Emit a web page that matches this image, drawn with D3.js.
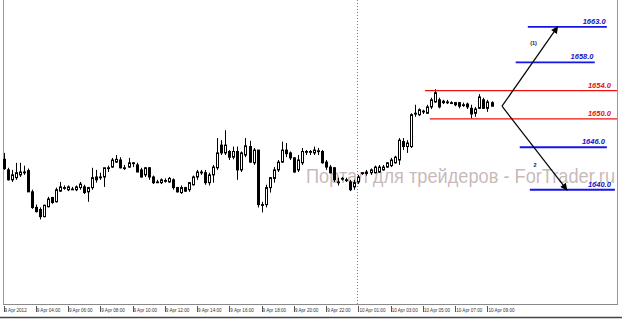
<!DOCTYPE html>
<html>
<head>
<meta charset="utf-8">
<script src="https://cdn.jsdelivr.net/npm/d3@7"></script>
<style>
	body { margin: 0; background: #fff; }
	svg { display: block; }
</style>
</head>
<body>
<svg id="chart" width="622" height="320"></svg>
<script>
// 15 min bars, 9-10 Apr 2012
const open_ = [
	1644.3,1642.8,1641.4,1641.7,1642.1,1642.4,1642.7,1639.7,1637.5,1637.2,
	1636.2,1637.6,1638.9,1638.3,1639.8,1640.3,1640.0,1640.1,1640.0,1640.3,
	1640.4,1639.7,1640.3,1641.8,1641.8,1641.8,1643.1,1643.2,1643.9,1644.2,
	1643.1,1643.2,1643.8,1643.5,1642.8,1642.1,1643.1,1641.8,1641.1,1641.0,
	1641.3,1641.1,1641.4,1640.3,1639.6,1640.3,1640.0,1640.7,1641.8,1642.4,
	1642.4,1641.0,1642.1,1643.1,1646.3,1645.2,1645.4,1644.6,1645.4,1642.8,
	1644.9,1646.1,1643.8,1645.6,1637.9,1637.9,1640.3,1641.6,1642.8,1643.9,
	1645.6,1645.2,1644.5,1642.8,1643.8,1645.4,1645.4,1645.2,1645.5,1645.4,
	1643.9,1643.2,1643.1,1641.1,1641.6,1641.4,1641.1,1640.4,1641.1,1642.4,
	1642.3,1642.4,1642.4,1642.5,1642.8,1643.2,1643.4,1643.8,1644.2,1646.8,
	1646.1,1646.1,1650.8,1650.6,1651.1,1650.8,1651.7,1652.4,1652.7,1652.5,
	1652.4,1652.3,1652.3,1652.3,1652.0,1652.1,1651.5,1650.8,1651.5,1652.7,
	1651.5,1652.3];
const high = [
	1645.2,1643.1,1642.8,1643.8,1643.8,1643.4,1643.0,1640.0,1637.9,1637.5,
	1637.9,1639.0,1639.0,1640.3,1641.1,1640.6,1640.6,1640.4,1640.6,1641.1,
	1640.7,1640.4,1643.1,1642.8,1642.4,1643.1,1643.4,1644.5,1644.9,1644.6,
	1643.5,1644.5,1643.9,1643.8,1643.1,1643.2,1643.2,1642.0,1641.4,1641.6,
	1641.6,1641.8,1641.6,1640.4,1640.6,1640.4,1641.1,1642.0,1642.8,1642.8,
	1642.8,1642.4,1643.5,1647.3,1647.0,1648.4,1645.6,1646.1,1646.1,1645.4,
	1647.3,1646.9,1645.9,1645.6,1638.3,1640.7,1641.8,1643.2,1644.2,1646.8,
	1646.6,1645.4,1644.6,1644.9,1645.9,1645.6,1645.6,1646.1,1645.9,1645.6,
	1644.2,1643.5,1643.2,1641.7,1641.8,1641.7,1641.4,1641.4,1642.1,1642.5,
	1642.8,1643.0,1643.4,1643.5,1643.5,1643.9,1644.5,1644.8,1647.3,1647.3,
	1647.0,1650.8,1652.0,1651.5,1651.3,1652.0,1653.0,1654.2,1653.0,1652.7,
	1652.7,1652.5,1652.4,1652.4,1652.3,1652.3,1652.0,1651.7,1653.5,1653.0,
	1652.7,1652.5];
const low = [
	1642.8,1641.3,1641.1,1641.4,1641.8,1642.1,1639.7,1637.3,1636.8,1635.8,
	1636.1,1637.5,1638.0,1638.2,1639.7,1640.0,1639.8,1640.0,1639.8,1640.0,
	1639.4,1638.3,1640.0,1641.0,1641.4,1640.4,1642.5,1643.1,1643.8,1643.0,
	1642.8,1643.1,1643.2,1642.5,1641.7,1641.8,1641.4,1640.8,1641.0,1640.8,
	1641.0,1641.0,1640.0,1639.6,1639.4,1639.7,1639.7,1640.6,1641.4,1642.1,
	1640.7,1640.6,1641.0,1642.8,1644.9,1644.9,1644.2,1644.3,1641.4,1642.5,
	1644.6,1643.8,1643.5,1637.5,1636.8,1637.5,1639.6,1641.0,1642.5,1643.8,
	1644.6,1644.2,1642.4,1642.5,1643.5,1644.9,1644.9,1644.9,1644.9,1643.7,
	1642.8,1642.3,1641.1,1640.6,1641.3,1641.1,1639.8,1640.0,1640.8,1642.1,
	1642.0,1642.1,1642.3,1642.4,1642.7,1643.1,1643.2,1643.7,1643.5,1645.6,
	1645.2,1645.9,1650.3,1650.4,1650.7,1650.7,1651.4,1652.3,1651.5,1652.1,
	1652.1,1652.1,1651.8,1651.5,1651.7,1651.4,1650.1,1650.3,1651.4,1651.4,
	1651.0,1651.8];
const close_ = [
	1643.0,1641.4,1642.1,1642.4,1642.5,1642.5,1639.7,1637.5,1636.9,1636.2,
	1637.8,1638.7,1638.2,1640.0,1640.4,1640.3,1640.4,1640.1,1640.4,1640.8,
	1639.6,1640.3,1641.7,1641.4,1641.8,1643.1,1643.1,1644.2,1644.3,1643.1,
	1643.1,1643.8,1643.8,1642.5,1641.8,1643.1,1641.8,1641.0,1641.1,1641.4,
	1641.3,1641.6,1640.3,1639.7,1640.3,1639.8,1641.0,1641.8,1642.5,1642.5,
	1641.0,1642.1,1643.2,1645.2,1645.2,1646.3,1644.6,1645.4,1642.8,1645.2,
	1646.2,1643.9,1645.6,1637.9,1637.9,1640.3,1641.7,1642.8,1643.9,1645.6,
	1645.1,1644.5,1642.5,1644.2,1645.4,1645.4,1645.4,1645.6,1645.5,1643.8,
	1643.2,1642.4,1641.4,1641.1,1641.6,1641.4,1640.0,1641.0,1641.8,1642.4,
	1642.5,1642.8,1643.2,1643.2,1643.2,1643.8,1644.2,1644.6,1647.0,1646.1,
	1646.6,1650.6,1650.8,1651.3,1651.1,1651.7,1652.7,1653.7,1651.7,1652.3,
	1652.4,1652.3,1652.0,1651.8,1652.0,1651.7,1650.7,1651.4,1653.1,1651.5,
	1652.4,1651.8];

const tick_labels = ["9 Apr 2012", "9 Apr 04:00", "9 Apr 06:00", "9 Apr 08:00", "9 Apr 10:00",
	"9 Apr 12:00", "9 Apr 14:00", "9 Apr 16:00", "9 Apr 18:00", "9 Apr 20:00", "9 Apr 22:00",
	"10 Apr 01:00", "10 Apr 03:00", "10 Apr 05:00", "10 Apr 07:00", "10 Apr 09:00"];
const tick_bars = [0, 8, 16, 24, 32, 40, 48, 56, 64, 72, 80, 88, 96, 104, 112, 120];
const separator_bar = 88;

// forecast levels (price, from bar, to bar)
const level_price = [1663, 1658, 1654, 1650, 1646, 1640];
const level_from  = [130, 127, 104.5, 105.7, 128, 130.5];
const level_to    = [149.6, 146.6, 152.5, 152.5, 149.6, 151.6];
const level_label_at = [149.3, 146.3, 150.6, 150.6, 149.1, 150.6];
const level_kind  = ["target", "target", "range", "range", "target", "target"];

// arrows: [bar, price]
const arrow_start = [123.6, 1651.8];
const arrow_ends  = [[137.5, 1663.1], [139.8, 1639.9]];
const arrow_notes = ["(1)", "2"];
const note_pos    = [[130.6, 1660.4], [131.4, 1643.2]];

const watermark = "Портал для трейдеров - ForTrader.ru";

const svg = d3.select("#chart");
const W = 622, H = 320;
const plot_left = 3, plot_right = 617, plot_bottom = 304;

const xscale = d3.scaleLinear().domain([0, 121]).range([3.5, 491.5]);
const yscale = d3.scaleLinear().domain([1624.0, 1666.8]).range([303, 0]);

svg.append("rect").attr("width", W).attr("height", H).attr("fill", "#fff");

// frame
svg.append("line")
	.attr("x1", plot_left + 0.5).attr("x2", plot_left + 0.5)
	.attr("y1", 0).attr("y2", plot_bottom)
	.attr("stroke", "#9a9a9a");
svg.append("line")
	.attr("x1", plot_right + 0.5).attr("x2", plot_right + 0.5)
	.attr("y1", 0).attr("y2", plot_bottom)
	.attr("stroke", "#9a9a9a");
svg.append("line")
	.attr("x1", plot_left).attr("x2", plot_right + 1)
	.attr("y1", plot_bottom + 0.5).attr("y2", plot_bottom + 0.5)
	.attr("stroke", "#8a8a8a");
svg.append("line")
	.attr("x1", 0).attr("x2", W)
	.attr("y1", 317.5).attr("y2", 317.5)
	.attr("stroke", "#444").attr("stroke-width", 1.5);

// day separator
svg.append("line")
	.attr("x1", Math.round(xscale(separator_bar)) - 0.5)
	.attr("x2", Math.round(xscale(separator_bar)) - 0.5)
	.attr("y1", 0).attr("y2", plot_bottom)
	.attr("stroke", "#777").attr("stroke-dasharray", "1,2");

// watermark
svg.append("text")
	.attr("x", 306).attr("y", 183)
	.attr("font-family", "Liberation Sans, Arial, sans-serif")
	.attr("font-size", 21)
	.attr("textLength", 309).attr("lengthAdjust", "spacingAndGlyphs")
	.attr("fill", "rgba(150,125,125,0.55)")
	.text(watermark);

// candles
const bars = d3.range(open_.length).map(i => ({
	i: i, o: open_[i], h: high[i], l: low[i], c: close_[i]
}));

const cx = d => Math.round(xscale(d.i)) + 0.5;

const candles = svg.append("g").attr("id", "candles");

candles.selectAll(".wick")
	.data(bars)
	.join("line")
	.attr("class", "wick")
	.attr("x1", cx).attr("x2", cx)
	.attr("y1", d => yscale(d.h)).attr("y2", d => yscale(d.l))
	.attr("stroke", "#000").attr("stroke-width", 1);

candles.selectAll(".body")
	.data(bars)
	.join("rect")
	.attr("class", "body")
	.attr("x", d => cx(d) - 1)
	.attr("width", 2)
	.attr("y", d => yscale(Math.max(d.o, d.c)))
	.attr("height", d => Math.max(0.8, yscale(Math.min(d.o, d.c)) - yscale(Math.max(d.o, d.c))))
	.attr("fill", d => d.c < d.o ? "#000" : "#fff")
	.attr("stroke", "#000").attr("stroke-width", 1);

// levels
const level_color = k => k == "range" ? "#ee1111" : "#1515e8";

const levels = svg.append("g").attr("id", "levels");
levels.selectAll("line")
	.data(level_price)
	.join("line")
	.attr("x1", (d, i) => xscale(level_from[i]))
	.attr("x2", (d, i) => Math.min(plot_right, xscale(level_to[i])))
	.attr("y1", d => yscale(d)).attr("y2", d => yscale(d))
	.attr("stroke", (d, i) => level_color(level_kind[i]))
	.attr("stroke-width", (d, i) => level_kind[i] == "range" ? 1.3 : 1.8);

levels.selectAll("text")
	.data(level_price)
	.join("text")
	.attr("x", (d, i) => xscale(level_label_at[i]))
	.attr("y", d => yscale(d) - 3)
	.attr("text-anchor", "end")
	.attr("font-family", "Liberation Sans, Arial, sans-serif")
	.attr("font-weight", "bold")
	.attr("font-style", "italic")
	.attr("font-size", 7.5)
	.attr("fill", (d, i) => level_kind[i] == "range" ? "#e01010" : "#1010c8")
	.text(d => d.toFixed(1));

// arrows
svg.append("defs")
	.append("marker")
	.attr("id", "head")
	.attr("viewBox", "0 0 10 10")
	.attr("refX", 10).attr("refY", 5)
	.attr("markerWidth", 9).attr("markerHeight", 7)
	.attr("markerUnits", "userSpaceOnUse")
	.attr("orient", "auto")
	.append("path")
	.attr("d", "M0,0 L10,5 L0,10 z")
	.attr("fill", "#000");

svg.append("g").attr("id", "arrows")
	.selectAll("line")
	.data(arrow_ends)
	.join("line")
	.attr("x1", xscale(arrow_start[0])).attr("y1", yscale(arrow_start[1]))
	.attr("x2", d => xscale(d[0])).attr("y2", d => yscale(d[1]))
	.attr("stroke", "#000").attr("stroke-width", 1.2)
	.attr("marker-end", "url(#head)");

svg.append("g").attr("id", "notes")
	.selectAll("text")
	.data(arrow_notes)
	.join("text")
	.attr("x", (d, i) => xscale(note_pos[i][0]))
	.attr("y", (d, i) => yscale(note_pos[i][1]))
	.attr("font-family", "Liberation Sans, Arial, sans-serif")
	.attr("font-weight", "bold")
	.attr("font-size", 5.5)
	.attr("fill", "#222")
	.text(d => d);

// time axis
const axis = svg.append("g").attr("id", "x-axis");
axis.selectAll("line")
	.data(tick_bars)
	.join("line")
	.attr("x1", d => Math.round(xscale(d)) + 0.5)
	.attr("x2", d => Math.round(xscale(d)) + 0.5)
	.attr("y1", plot_bottom + 2).attr("y2", plot_bottom + 8)
	.attr("stroke", "#555");
axis.selectAll("text")
	.data(tick_labels)
	.join("text")
	.attr("x", (d, i) => xscale(tick_bars[i]) + 1)
	.attr("y", 312)
	.attr("font-family", "Liberation Sans, Arial, sans-serif")
	.attr("font-size", 4.6)
	.attr("fill", "#333")
	.text(d => d);
</script>
</body>
</html>
